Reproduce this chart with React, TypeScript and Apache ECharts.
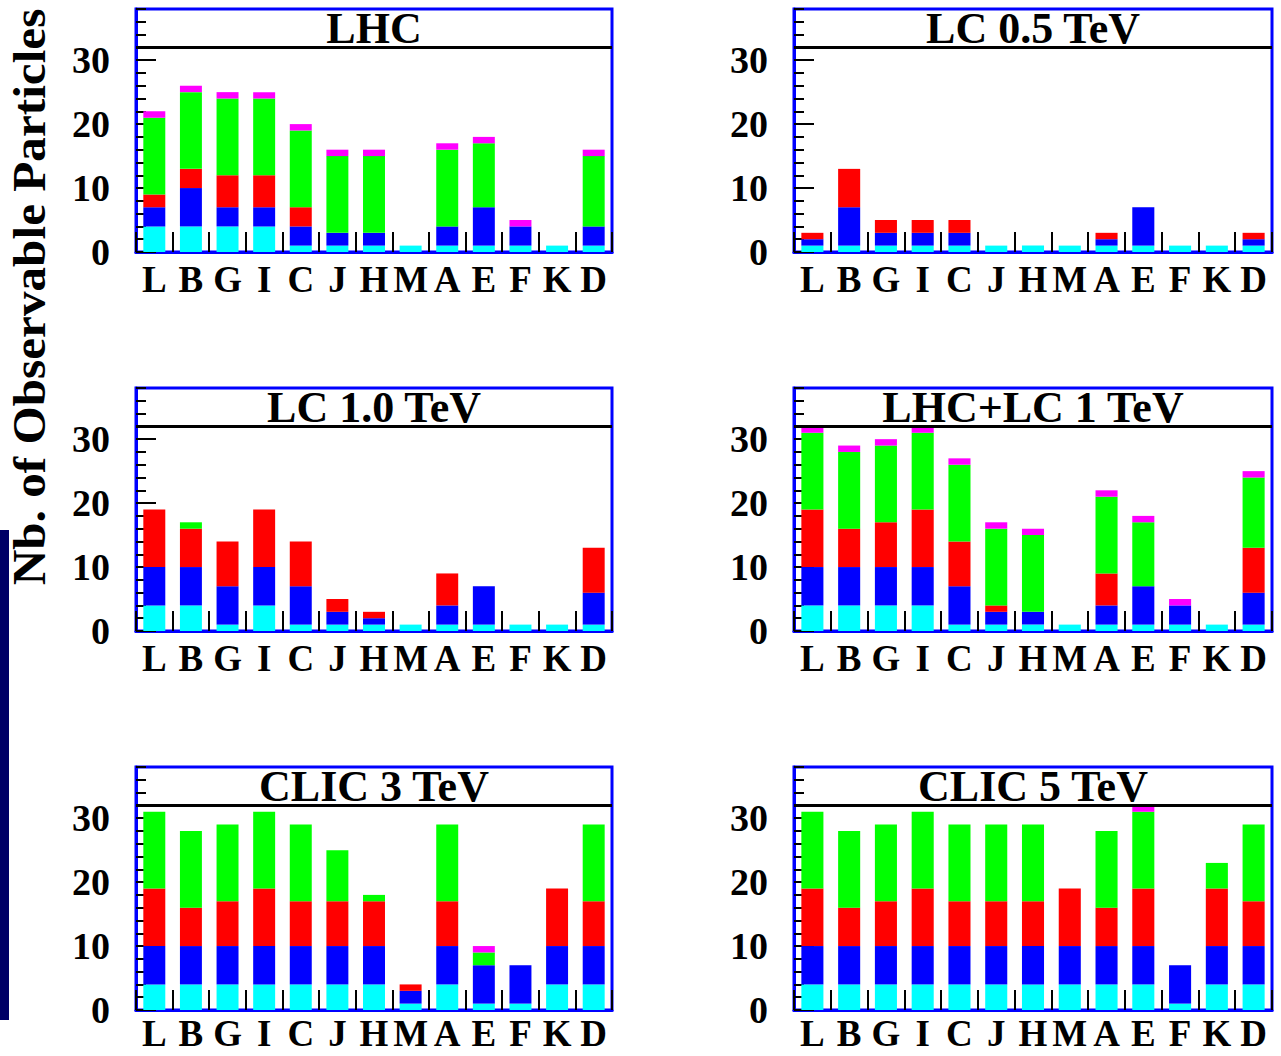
import React, { useEffect, useRef } from "react";
import * as echarts from "echarts";

const categories = ["L", "B", "G", "I", "C", "J", "H", "M", "A", "E", "F", "K", "D"];
const panelTitles = ["LHC", "LC 0.5 TeV", "LC 1.0 TeV", "LHC+LC 1 TeV", "CLIC 3 TeV", "CLIC 5 TeV"];
const yTickValues = [0, 10, 20, 30];
const yAxisTitle = "Nb. of Observable Particles";
const segmentNames = ["cyan", "blue", "red", "green", "magenta"];
const segmentColors = ["#00ffff", "#0000ff", "#ff0000", "#00ff00", "#ff00ff"];

// Segment heights (stacked), order of categories above
// LHC
const lhcCyan = [4, 4, 4, 4, 1, 1, 1, 1, 1, 1, 1, 1, 1];
const lhcBlue = [3, 6, 3, 3, 3, 2, 2, 0, 3, 6, 3, 0, 3];
const lhcRed = [2, 3, 5, 5, 3, 0, 0, 0, 0, 0, 0, 0, 0];
const lhcGreen = [12, 12, 12, 12, 12, 12, 12, 0, 12, 10, 0, 0, 11];
const lhcMagenta = [1, 1, 1, 1, 1, 1, 1, 0, 1, 1, 1, 0, 1];
// LC 0.5 TeV
const lc05Cyan = [1, 1, 1, 1, 1, 1, 1, 1, 1, 1, 1, 1, 1];
const lc05Blue = [1, 6, 2, 2, 2, 0, 0, 0, 1, 6, 0, 0, 1];
const lc05Red = [1, 6, 2, 2, 2, 0, 0, 0, 1, 0, 0, 0, 1];
const lc05Green = [0, 0, 0, 0, 0, 0, 0, 0, 0, 0, 0, 0, 0];
const lc05Magenta = [0, 0, 0, 0, 0, 0, 0, 0, 0, 0, 0, 0, 0];
// LC 1.0 TeV
const lc10Cyan = [4, 4, 1, 4, 1, 1, 1, 1, 1, 1, 1, 1, 1];
const lc10Blue = [6, 6, 6, 6, 6, 2, 1, 0, 3, 6, 0, 0, 5];
const lc10Red = [9, 6, 7, 9, 7, 2, 1, 0, 5, 0, 0, 0, 7];
const lc10Green = [0, 1, 0, 0, 0, 0, 0, 0, 0, 0, 0, 0, 0];
const lc10Magenta = [0, 0, 0, 0, 0, 0, 0, 0, 0, 0, 0, 0, 0];
// LHC+LC 1 TeV
const combCyan = [4, 4, 4, 4, 1, 1, 1, 1, 1, 1, 1, 1, 1];
const combBlue = [6, 6, 6, 6, 6, 2, 2, 0, 3, 6, 3, 0, 5];
const combRed = [9, 6, 7, 9, 7, 1, 0, 0, 5, 0, 0, 0, 7];
const combGreen = [12, 12, 12, 12, 12, 12, 12, 0, 12, 10, 0, 0, 11];
const combMagenta = [1, 1, 1, 1, 1, 1, 1, 0, 1, 1, 1, 0, 1];
// CLIC 3 TeV
const clic3Cyan = [4, 4, 4, 4, 4, 4, 4, 1, 4, 1, 1, 4, 4];
const clic3Blue = [6, 6, 6, 6, 6, 6, 6, 2, 6, 6, 6, 6, 6];
const clic3Red = [9, 6, 7, 9, 7, 7, 7, 1, 7, 0, 0, 9, 7];
const clic3Green = [12, 12, 12, 12, 12, 8, 1, 0, 12, 2, 0, 0, 12];
const clic3Magenta = [0, 0, 0, 0, 0, 0, 0, 0, 0, 1, 0, 0, 0];
// CLIC 5 TeV
const clic5Cyan = [4, 4, 4, 4, 4, 4, 4, 4, 4, 4, 1, 4, 4];
const clic5Blue = [6, 6, 6, 6, 6, 6, 6, 6, 6, 6, 6, 6, 6];
const clic5Red = [9, 6, 7, 9, 7, 7, 7, 9, 6, 9, 0, 9, 7];
const clic5Green = [12, 12, 12, 12, 12, 12, 12, 0, 12, 12, 0, 4, 12];
const clic5Magenta = [0, 0, 0, 0, 0, 0, 0, 0, 0, 1, 0, 0, 0];

const panelData = [
  [lhcCyan, lhcBlue, lhcRed, lhcGreen, lhcMagenta],
  [lc05Cyan, lc05Blue, lc05Red, lc05Green, lc05Magenta],
  [lc10Cyan, lc10Blue, lc10Red, lc10Green, lc10Magenta],
  [combCyan, combBlue, combRed, combGreen, combMagenta],
  [clic3Cyan, clic3Blue, clic3Red, clic3Green, clic3Magenta],
  [clic5Cyan, clic5Blue, clic5Red, clic5Green, clic5Magenta],
];

const FONT = '"Liberation Serif", "Times New Roman", serif';
const colLefts = [136, 794];
const colWidths = [476, 478];
const rowTops = [9, 388, 767];
const rowLabelMargins = [11, 11, 7];
const gridHeight = 243;
const Y_MAX = 38;
const TITLE_LINE = 32;

export default function App() {
  const ref = useRef<HTMLDivElement>(null);
  useEffect(() => {
    if (!ref.current) return;
    const chart = echarts.init(ref.current, null, { renderer: "svg" });
    const grids: any[] = [];
    const xAxes: any[] = [];
    const yAxes: any[] = [];
    const series: any[] = [];
    const graphics: any[] = [];
    for (let p = 0; p < 6; p++) {
      const col = p % 2;
      const row = Math.floor(p / 2);
      const left = colLefts[col];
      const width = colWidths[col];
      const top = rowTops[row];
      grids.push({
        left,
        top,
        width,
        height: gridHeight,
        show: true,
        borderColor: "#0000ff",
        borderWidth: 3,
        backgroundColor: "#ffffff",
        containLabel: false,
      });
      xAxes.push({
        type: "category",
        gridIndex: p,
        data: categories,
        boundaryGap: true,
        axisLine: { show: true, lineStyle: { color: "#0000ff", width: 3 } },
        axisTick: { show: true, inside: true, length: 20, interval: 0, lineStyle: { color: "#000", width: 2 } },
        axisLabel: {
          interval: 0,
          fontFamily: FONT,
          fontWeight: "bold",
          fontSize: 37,
          lineHeight: 32,
          color: "#000",
          margin: rowLabelMargins[row],
        },
        splitLine: { show: false },
      });
      yAxes.push({
        type: "value",
        gridIndex: p,
        min: 0,
        max: Y_MAX,
        interval: 10,
        axisLine: { show: true, lineStyle: { color: "#0000ff", width: 3 } },
        axisTick: {
          show: true,
          inside: true,
          length: 20,
          customValues: yTickValues,
          lineStyle: { color: "#000", width: 2 },
        },
        axisLabel: {
          customValues: yTickValues,
          formatter: (v: number) => (v % 10 === 0 ? String(v) : ""),
          fontFamily: FONT,
          fontWeight: "bold",
          fontSize: 38,
          color: "#000",
          margin: 26,
        },
        splitLine: { show: false },
      });
      yAxes.push({
        type: "value",
        gridIndex: p,
        min: 0,
        max: Y_MAX,
        interval: 2,
        position: "left",
        axisLine: { show: false },
        axisTick: { show: true, inside: true, length: 10, lineStyle: { color: "#000", width: 2 } },
        axisLabel: { show: false },
        splitLine: { show: false },
      });
      panelData[p].forEach((arr, s) => {
        const ser: any = {
          type: "bar",
          name: segmentNames[s],
          xAxisIndex: p,
          yAxisIndex: 2 * p,
          stack: "panel" + p,
          data: arr,
          barWidth: "60%",
          itemStyle: { color: segmentColors[s] },
          emphasis: { disabled: true },
        };
        if (s === 0) {
          ser.markLine = {
            silent: true,
            symbol: "none",
            label: { show: false },
            lineStyle: { color: "#000", width: 3, type: "solid" },
            data: [{ yAxis: TITLE_LINE }],
          };
        }
        series.push(ser);
      });
      graphics.push({
        type: "text",
        x: left + width / 2,
        y: top + 19,
        z: 100,
        style: {
          text: panelTitles[p],
          font: `bold 44px ${FONT}`,
          textAlign: "center",
          textVerticalAlign: "middle",
          fill: "#000",
        },
      });
    }
    graphics.push({
      type: "text",
      x: 30,
      y: 297,
      rotation: Math.PI / 2,
      scaleX: 1.07,
      style: {
        text: yAxisTitle,
        font: `bold 46px ${FONT}`,
        textAlign: "center",
        textVerticalAlign: "middle",
        fill: "#000",
      },
    });
    graphics.push({
      type: "rect",
      shape: { x: 0, y: 530, width: 9, height: 490 },
      style: { fill: "#000066" },
    });
    chart.setOption({
      animation: false,
      backgroundColor: "#ffffff",
      grid: grids,
      xAxis: xAxes,
      yAxis: yAxes,
      series,
      graphic: graphics,
    });
    return () => chart.dispose();
  }, []);
  return (
    <div
      ref={ref}
      style={{ position: "fixed", left: 0, top: 0, width: 1281, height: 1056 }}
    />
  );
}
